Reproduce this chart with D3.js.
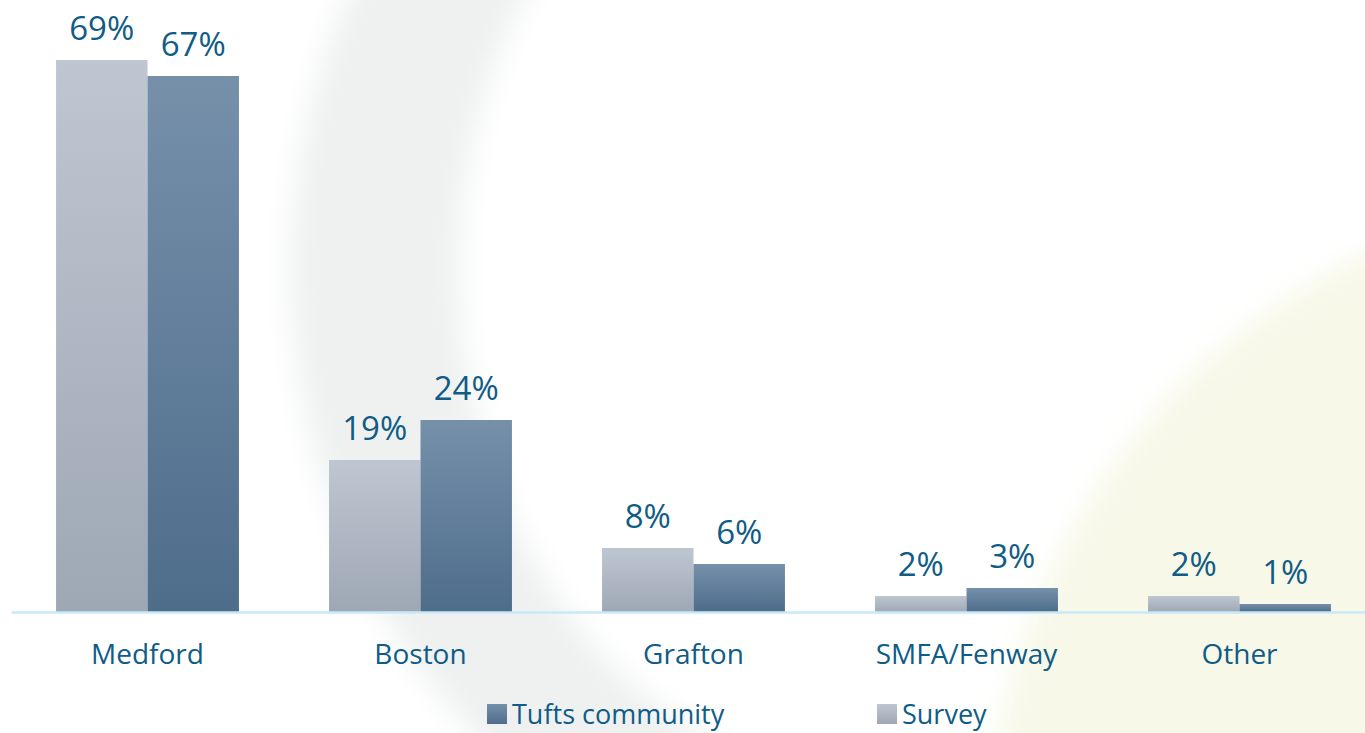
<!DOCTYPE html>
<html>
<head>
<meta charset="utf-8">
<script src="https://cdn.jsdelivr.net/npm/d3@7"></script>
<style>
  html, body { margin: 0; padding: 0; background: #fff; overflow: hidden; }
  svg { display: block; font-family: "Open Sans", sans-serif; }
</style>
</head>
<body>
<div class="chart"></div>
<script>
// data
const categories = ["Medford", "Boston", "Grafton", "SMFA/Fenway", "Other"];
const surveyValues = [69, 19, 8, 2, 2];
const tuftsValues = [67, 24, 6, 3, 1];
const seriesNames = ["Survey", "Tufts community"];
const legendOrder = ["Tufts community", "Survey"];

const width = 1365;
const height = 733;
const baseY = 612;
const textColor = "#0f5c86";

let svg = d3.select(".chart").append("svg")
    .attr("width", width)
    .attr("height", height);

let defs = svg.append("defs");

// gradients for the two series
const gradients = {
    "Survey": ["#bec6d1", "#9ea8b4"],
    "Tufts community": ["#7690aa", "#4e6d8b"]
};
Object.keys(gradients).forEach((name, i) => {
    let g = defs.append("linearGradient")
        .attr("id", "grad" + i)
        .attr("x1", 0).attr("y1", 0).attr("x2", 0).attr("y2", 1);
    g.append("stop").attr("offset", "0%").attr("stop-color", gradients[name][0]);
    g.append("stop").attr("offset", "100%").attr("stop-color", gradients[name][1]);
});
const fillFor = name => "url(#grad" + Object.keys(gradients).indexOf(name) + ")";

// soft watermark behind the chart
defs.append("filter").attr("id", "soft")
    .append("feGaussianBlur").attr("stdDeviation", 14);

let bg = svg.append("g").attr("filter", "url(#soft)");
// yellow wash bottom right
bg.append("circle")
    .attr("cx", 1650).attr("cy", 850).attr("r", 660)
    .attr("fill", "#f7f8e8");
// grey C-shaped ring (left half of an ellipse ring)
const cx = 900, cy = 270;
const ringPath = "M" + cx + "," + (cy - 650) +
    " A610,650 0 0 0 " + cx + "," + (cy + 650) +
    " L" + cx + "," + (cy + 520) +
    " A440,520 0 0 1 " + cx + "," + (cy - 520) + " Z";
bg.append("path")
    .attr("d", ringPath)
    .attr("fill", "#eff1f1");

// scales
let xScale = d3.scaleBand()
    .domain(categories)
    .range([11, 1376])
    .paddingInner(0.33)
    .paddingOuter(0.165);
let subScale = d3.scaleBand()
    .domain(seriesNames)
    .range([0, xScale.bandwidth()]);
let yScale = d3.scaleLinear()
    .domain([0, 100])
    .range([baseY, baseY - 800]);

const rows = categories.map((c, i) => ({
    category: c,
    values: [
        { series: "Survey", value: surveyValues[i] },
        { series: "Tufts community", value: tuftsValues[i] }
    ]
}));

let groups = svg.selectAll(".cat")
    .data(rows)
    .enter()
    .append("g")
    .attr("class", "cat")
    .attr("transform", d => "translate(" + xScale(d.category) + ",0)");

groups.selectAll("rect")
    .data(d => d.values)
    .enter()
    .append("rect")
    .attr("x", d => subScale(d.series))
    .attr("y", d => yScale(d.value))
    .attr("width", subScale.bandwidth())
    .attr("height", d => yScale(0) - yScale(d.value))
    .attr("fill", d => fillFor(d.series));

groups.selectAll(".val")
    .data(d => d.values)
    .enter()
    .append("text")
    .attr("class", "val")
    .attr("x", d => subScale(d.series) + subScale.bandwidth() / 2)
    .attr("y", d => yScale(d.value) - 20)
    .attr("text-anchor", "middle")
    .attr("fill", textColor)
    .style("font-size", "33px")
    .text(d => d.value + "%");

// category axis
let xAxis = d3.axisBottom(xScale).tickSize(0).tickPadding(32);
let axisG = svg.append("g")
    .attr("transform", "translate(0," + baseY + ")")
    .call(xAxis);
axisG.select(".domain")
    .attr("stroke", "#c8e9f8")
    .attr("stroke-width", 2.5);
axisG.selectAll("text")
    .attr("fill", textColor)
    .style("font-size", "28px")
    .style("font-family", "'Open Sans', sans-serif");

// legend
const legendX = { "Tufts community": 487, "Survey": 877 };
let legend = svg.selectAll(".legend")
    .data(legendOrder)
    .enter()
    .append("g")
    .attr("class", "legend")
    .attr("transform", d => "translate(" + legendX[d] + ",704)");
legend.append("rect")
    .attr("width", 20).attr("height", 20)
    .attr("fill", d => fillFor(d));
legend.append("text")
    .attr("x", 25)
    .attr("y", 20)
    .attr("fill", textColor)
    .style("font-size", "27px")
    .text(d => d);
</script>
</body>
</html>
